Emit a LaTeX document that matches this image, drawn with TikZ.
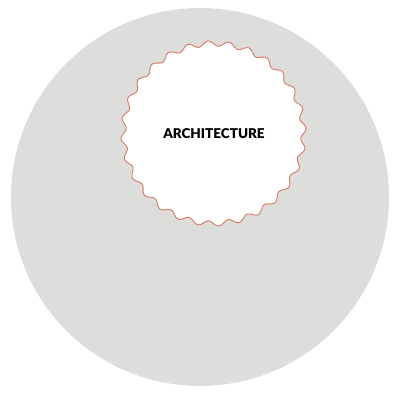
\documentclass[tikz,border=0pt]{standalone}
\usepackage{fontspec}
\setmainfont{Lato}
\begin{document}
\begin{tikzpicture}[x=1pt,y=1pt]
\definecolor{biggray}{RGB}{221,221,219}
\definecolor{waveedge}{RGB}{214,120,100}
\useasboundingbox (0,0) rectangle (396,394);
\fill[white] (0,0) rectangle (396,394);
\node[circle, fill=biggray, minimum size=378pt, inner sep=0pt] (outer) at (200,197) {};
\filldraw[fill=white, draw=waveedge, line width=0.9pt]
  plot[domain=0:360, samples=400, smooth] ({213.5+(90+2.6*sin(28*\x))*cos(\x)}, {260.5+(90+2.6*sin(28*\x))*sin(\x)}) -- cycle;
\node[font=\fontspec{Lato Black}\fontsize{13.5}{15}\selectfont] (arch) at (214,260) {ARCHITECTURE};
\end{tikzpicture}
\end{document}
